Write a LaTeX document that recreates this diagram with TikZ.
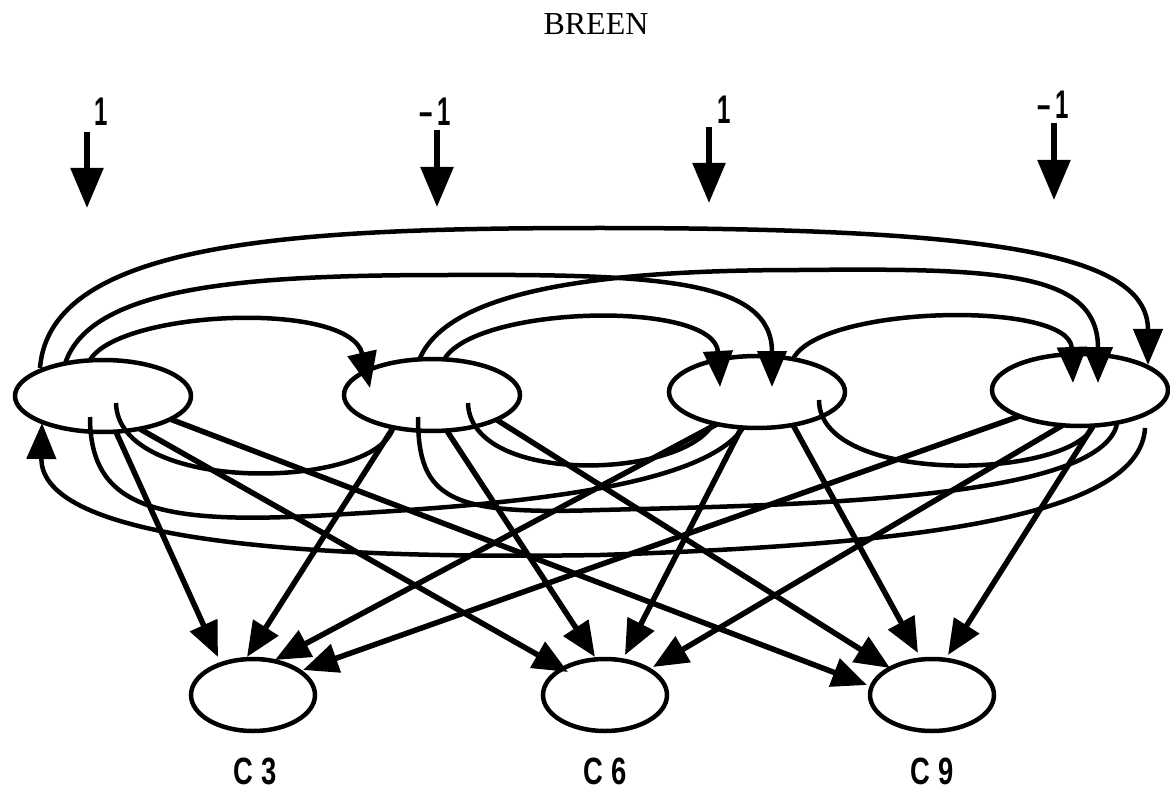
\documentclass[tikz,border=0pt]{standalone}
\usepackage{fontspec}
\newfontfamily\lblfont{Liberation Sans}
\newfontfamily\ttlfont{Liberation Serif}
\usetikzlibrary{shapes.geometric,arrows.meta}
\tikzset{
  topnode/.style={ellipse, draw, fill=white, line width=4.5pt, minimum width=176pt, minimum height=72pt, inner sep=0pt},
  cnode/.style={ellipse, draw, fill=white, line width=4.5pt, minimum width=124pt, minimum height=72pt, inner sep=0pt},
  arcline/.style={line width=4.5pt},
  arcarrow/.style={line width=4.5pt, -{Triangle[width=29pt,length=36pt]}},
  outarrow/.style={line width=5.5pt, -{Triangle[width=29pt,length=35pt]}},
  inarrow/.style={line width=5.5pt, -{Triangle[width=32pt,length=40pt]}},
  digit/.style={font=\lblfont\fontsize{40}{44}\selectfont\bfseries, inner sep=0pt},
  clabel/.style={font=\lblfont\fontsize{38}{42}\selectfont\bfseries, inner sep=0pt},
  title/.style={font=\ttlfont\fontsize{32}{34}\selectfont, inner sep=0pt}
}
\begin{document}
\begin{tikzpicture}[x=1pt,y=-1pt]
\useasboundingbox (0,0) rectangle (1170,794);

% title
\node[title] (ttl) at (596,24) {BREEN};

% nodes
\node[topnode] (A1) at (103,396) {};
\node[topnode] (A2) at (432,395) {};
\node[topnode] (A3) at (757,392) {};
\node[topnode] (A4) at (1080,390) {};
\node[cnode] (C3) at (253,695) {};
\node[cnode] (C6) at (605,695) {};
\node[cnode] (C9) at (932,695) {};

% output labels
\node[clabel] (lc3) at (255,771) {\scalebox{0.72}[1]{C 3}};
\node[clabel] (lc6) at (605,771) {\scalebox{0.72}[1]{C 6}};
\node[clabel] (lc9) at (932,771) {\scalebox{0.72}[1]{C 9}};

% input arrows
\coordinate (i1s) at (87,132);  \coordinate (i1e) at (87,208);
\coordinate (i2s) at (437,130); \coordinate (i2e) at (437,207);
\coordinate (i3s) at (709,127); \coordinate (i3e) at (709,203);
\coordinate (i4s) at (1054,123); \coordinate (i4e) at (1054,200);
\draw[inarrow] (i1s) -- (i1e);
\draw[inarrow] (i2s) -- (i2e);
\draw[inarrow] (i3s) -- (i3e);
\draw[inarrow] (i4s) -- (i4e);
\node[digit] (l1) at (101,112) {\scalebox{0.6}[1]{1}};
\node[digit] (l2) at (435,112) {\scalebox{0.6}[1]{–\hspace{8pt}1}};
\node[digit] (l3) at (724,110) {\scalebox{0.6}[1]{1}};
\node[digit] (l4) at (1053,105) {\scalebox{0.6}[1]{–\hspace{8pt}1}};

% forward arcs over the top
\draw[arcarrow] ([shift={(-63,-28)}]A1.center) .. controls (50,240) and (300,228) .. (600,228)
  .. controls (1000,228) and (1148,255) .. ([shift={(68,-25)}]A4.center);
\draw[arcarrow] ([shift={(-38,-32)}]A1.center) .. controls (90,285) and (250,275) .. (450,275)
  .. controls (660,274) and (772,280) .. ([shift={(15,-5)}]A3.center);
\draw[arcarrow] ([shift={(-13,-36)}]A1.center) .. controls (120,310) and (350,300) .. ([shift={(-62,-7)}]A2.center);
\draw[arcarrow] ([shift={(-12,-37)}]A2.center) .. controls (450,290) and (600,270) .. (800,270)
  .. controls (1000,268) and (1098,272) .. ([shift={(18,-7)}]A4.center);
\draw[arcarrow] ([shift={(13,-37)}]A2.center) .. controls (480,305) and (715,300) .. ([shift={(-37,-5)}]A3.center);
\draw[arcarrow] ([shift={(36,-33)}]A3.center) .. controls (820,305) and (1070,300) .. ([shift={(-7,-7)}]A4.center);

% backward arcs underneath
\draw[arcarrow] ([shift={(65,38)}]A4.center) .. controls (1140,520) and (900,545) .. (600,555)
  .. controls (300,560) and (40,540) .. ([shift={(-61,27)}]A1.center);
\draw[arcline] ([shift={(-14,36)}]A3.center) .. controls (700,490) and (500,505) .. (330,515)
  .. controls (160,525) and (90,510) .. ([shift={(-13,21)}]A1.center);
\draw[arcline] ([shift={(-39,33)}]A2.center) .. controls (375,490) and (118,495) .. ([shift={(13,7)}]A1.center);
\draw[arcline] ([shift={(13,37)}]A4.center) .. controls (1065,480) and (819,485) .. ([shift={(62,8)}]A3.center);
\draw[arcline] ([shift={(-44,32)}]A3.center) .. controls (680,480) and (470,485) .. ([shift={(36,8)}]A2.center);
\draw[arcline] ([shift={(37,34)}]A4.center) .. controls (1100,500) and (800,505) .. (600,510)
  .. controls (450,515) and (418,500) .. ([shift={(-14,22)}]A2.center);

% connections to outputs
\draw[outarrow] ([shift={(13,36)}]A1.center) -- ([shift={(-35,-38)}]C3.center);
\draw[outarrow] ([shift={(37,33)}]A1.center) -- ([shift={(-37,-23)}]C6.center);
\draw[outarrow] ([shift={(67,23)}]A1.center) -- ([shift={(-65,-10)}]C9.center);
\draw[outarrow] ([shift={(-39,33)}]A2.center) -- ([shift={(-6,-38)}]C3.center);
\draw[outarrow] ([shift={(15,36)}]A2.center) -- ([shift={(-10,-38)}]C6.center);
\draw[outarrow] ([shift={(65,25)}]A2.center) -- ([shift={(-42,-27)}]C9.center);
\draw[outarrow] ([shift={(-40,32)}]A3.center) -- ([shift={(22,-35)}]C3.center);
\draw[outarrow] ([shift={(-15,35)}]A3.center) -- ([shift={(20,-40)}]C6.center);
\draw[outarrow] ([shift={(36,33)}]A3.center) -- ([shift={(-14,-42)}]C9.center);
\draw[outarrow] ([shift={(-60,26)}]A4.center) -- ([shift={(50,-25)}]C3.center);
\draw[outarrow] ([shift={(-17,35)}]A4.center) -- ([shift={(48,-28)}]C6.center);
\draw[outarrow] ([shift={(13,36)}]A4.center) -- ([shift={(16,-40)}]C9.center);
\end{tikzpicture}
\end{document}
